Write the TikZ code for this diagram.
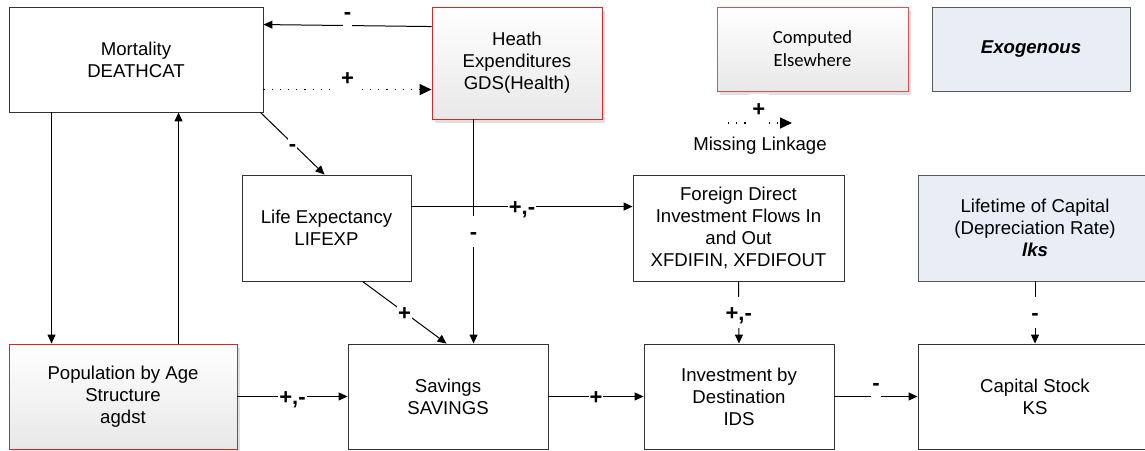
\documentclass[tikz,border=0pt]{standalone}
\usepackage{fontspec}
\setmainfont{Liberation Sans}
\newfontfamily\calibfont{Carlito}
\usetikzlibrary{arrows.meta,shadows}
\definecolor{edgered}{RGB}{222,36,36}
\definecolor{softred}{RGB}{224,80,80}
\definecolor{exofill}{RGB}{233,238,246}
\begin{document}
\begin{tikzpicture}[x=1pt,y=-1pt,
  txt/.style={font=\fontsize{18.6}{22}\selectfont, align=center},
  box/.style={txt, draw=black!80, line width=0.9pt, inner sep=0pt},
  plainbox/.style={box, fill=white},
  redbox/.style={box, draw=edgered, top color=white, bottom color=black!9,
    general shadow={fill=black!12, shadow xshift=3pt, shadow yshift=-3.5pt}},
  exobox/.style={box, draw=black!65, fill=exofill},
  conn/.style={line width=1pt, -{Triangle[length=9pt,width=8pt]}},
  dotconn/.style={line width=1.3pt, dash pattern=on 1.2pt off 7pt,
    -{Triangle[length=12pt,width=11pt]}},
  lbl/.style={font=\fontsize{22}{26}\selectfont\bfseries, fill=white,
    inner sep=1pt, text height=22pt, text depth=7pt},
]
\clip (0,0) rectangle (1145,450);

% boxes of the model
\node[plainbox, minimum width=254pt, minimum height=105pt] (mort) at (136,59.5) {Mortality\\DEATHCAT};
\node[redbox, minimum width=170pt, minimum height=112pt] (heath) at (517,63) {Heath\\Expenditures\\GDS(Health)};
\node[plainbox, minimum width=169pt, minimum height=106pt] (life) at (326.5,228) {Life Expectancy\\LIFEXP};
\node[plainbox, minimum width=211pt, minimum height=106pt] (fdi) at (738.5,228) {Foreign Direct\\Investment Flows In\\and Out\\XFDIFIN, XFDIFOUT};
\node[exobox, minimum width=234pt, minimum height=106pt] (lifet) at (1035,228) {Lifetime of Capital\\(Depreciation Rate)\\\textbf{\textit{lks}}};
\node[redbox, minimum width=228pt, minimum height=105pt] (pop) at (123,396.5) {Population by Age\\Structure\\agdst};
\node[plainbox, minimum width=200pt, minimum height=105pt] (sav) at (448,396.5) {Savings\\SAVINGS};
\node[plainbox, minimum width=190pt, minimum height=105pt] (ids) at (739,396.5) {Investment by\\Destination\\IDS};
\node[plainbox, minimum width=234pt, minimum height=105pt] (ks) at (1035,396.5) {Capital Stock\\KS};

% legend
\node[redbox, draw=softred, minimum width=191pt, minimum height=84pt,
  font=\calibfont\fontsize{18.6}{23}\selectfont] (comp) at (812.5,49) {Computed\\Elsewhere};
\node[exobox, minimum width=198pt, minimum height=84pt] (exo) at (1031,49) {\textbf{\textit{Exogenous}}};
\coordinate (mla) at (728,123);
\coordinate (mlb) at (792,123);
\draw[dotconn] (mla) -- node[lbl, pos=0.48, yshift=14pt, minimum width=20pt] (mlp) {+} (mlb);
\node[txt] (mlt) at (760,146) {Missing Linkage};

% links
\draw[conn] ([yshift=-20pt]heath.north west) -- node[lbl, pos=0.5, yshift=14pt] (l1) {-} ([yshift=-18pt]mort.north east);
\draw[dotconn] ([yshift=-83pt]mort.north east) -- node[lbl, pos=0.5, yshift=12pt, minimum width=21pt] (l2) {+} ([yshift=-83pt]heath.north west);
\draw[conn] ([xshift=-3pt]mort.south east) -- node[lbl, pos=0.5] (l3) {-} ([xshift=83pt]life.north west);
\draw[conn] ([xshift=43pt]mort.south west) -- ([xshift=43pt]pop.north west);
\draw[conn] ([xshift=170pt]pop.north west) -- ([xshift=170pt]mort.south west);
\draw[conn] ([xshift=42pt]heath.south west) -- node[lbl, pos=0.5] (l5) {-} ([xshift=126pt]sav.north west);
\draw[conn] ([yshift=-32pt]life.north east) -- node[lbl, pos=0.5] (l4) {+,-} ([yshift=-32pt]fdi.north west);
\draw[conn] ([xshift=121pt]life.south west) -- node[lbl, pos=0.5] (l6) {+} ([xshift=99pt]sav.north west);
\draw[conn] (pop.east) -- node[lbl, pos=0.5] (l7) {+,-} (sav.west);
\draw[conn] (sav.east) -- node[lbl, pos=0.5] (l8) {+} (ids.west);
\draw[conn] (fdi.south) -- node[lbl, pos=0.5] (l9) {+,-} (ids.north);
\draw[conn] (ids.east) -- node[lbl, pos=0.5, yshift=13.5pt] (l10) {-} (ks.west);
\draw[conn] (lifet.south) -- node[lbl, pos=0.5] (l11) {-} (ks.north);
\end{tikzpicture}
\end{document}
